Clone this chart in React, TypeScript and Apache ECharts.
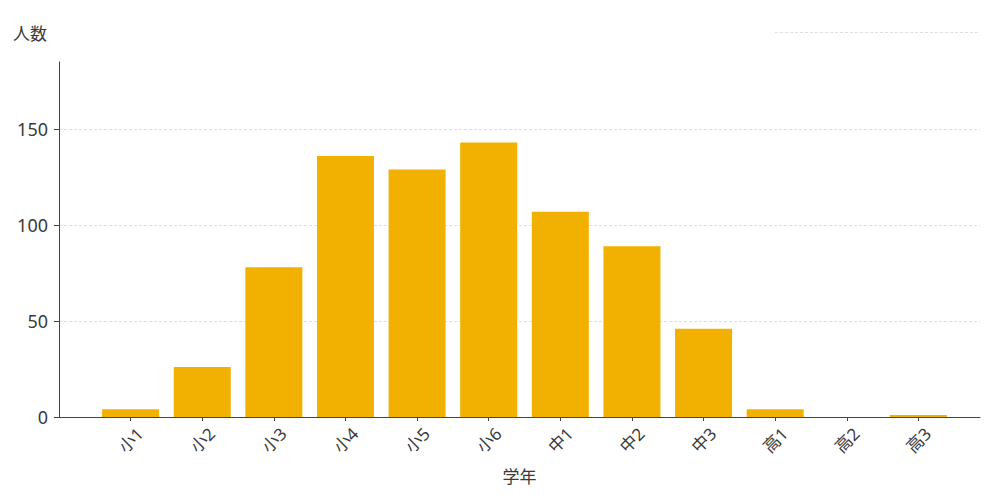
import React, { useEffect, useRef } from 'react';
import * as echarts from 'echarts';

// 学年ごとの人数
const grades = ['小1', '小2', '小3', '小4', '小5', '小6', '中1', '中2', '中3', '高1', '高2', '高3'];
const counts = [4, 26, 78, 136, 129, 143, 107, 89, 46, 4, 0, 1];
const yTicks = [0, 50, 100, 150];

const FONT = '"Noto Sans", "Noto Sans CJK JP", sans-serif';

const App: React.FC = () => {
  const chartRef = useRef<HTMLDivElement>(null);

  useEffect(() => {
    if (!chartRef.current) return;
    const chart = echarts.init(chartRef.current, undefined, { renderer: 'svg' });

    const positions = grades.map((_, i) => i + 1);

    chart.setOption({
      animation: false,
      textStyle: { fontFamily: FONT },
      grid: { left: 59, right: 20, top: 62, bottom: 83, containLabel: false },
      graphic: [
        {
          type: 'line',
          shape: { x1: 775, y1: 32.5, x2: 980, y2: 32.5 },
          style: { stroke: '#e0e0e0', lineWidth: 1, lineDash: [3, 2] },
          silent: true,
        },
      ],
      xAxis: {
        type: 'value',
        min: 0,
        max: 12.86,
        name: '学年',
        nameLocation: 'middle',
        nameGap: 51,
        nameTextStyle: { fontSize: 17, color: '#3a3a3a', fontFamily: FONT },
        axisLine: { show: true, onZero: false, lineStyle: { color: '#444', width: 1 } },
        axisTick: { show: true, length: 4, lineStyle: { color: '#444' }, customValues: positions },
        axisLabel: {
          rotate: 45,
          fontSize: 17,
          color: '#3a3a3a',
          margin: 23,
          align: 'center',
          verticalAlign: 'middle',
          fontFamily: FONT,
          customValues: positions,
          formatter: (v: number) => grades[Math.round(v) - 1] ?? '',
        },
        splitLine: { show: false },
      },
      yAxis: {
        type: 'value',
        min: 0,
        max: 185,
        interval: 50,
        name: '人数',
        nameLocation: 'end',
        nameGap: 29,
        nameTextStyle: {
          fontSize: 17,
          color: '#3a3a3a',
          align: 'right',
          verticalAlign: 'middle',
          padding: [0, 12, 0, 0],
          fontFamily: FONT,
        },
        axisLine: { show: true, lineStyle: { color: '#444', width: 1 } },
        axisTick: { show: true, length: 5, lineStyle: { color: '#444' }, customValues: yTicks },
        axisLabel: { fontSize: 18, color: '#3a3a3a', margin: 11, fontFamily: FONT, customValues: yTicks },
        splitLine: { show: true, lineStyle: { color: '#ddd', type: [3, 2], width: 1 } },
      },
      series: [
        {
          type: 'bar',
          data: counts.map((c, i) => [positions[i], c]),
          barWidth: 57,
          itemStyle: { color: '#F2B100' },
        },
      ],
    });

    return () => {
      chart.dispose();
    };
  }, []);

  return <div ref={chartRef} style={{ width: 1000, height: 500, margin: -8 }} />;
};

export default App;
